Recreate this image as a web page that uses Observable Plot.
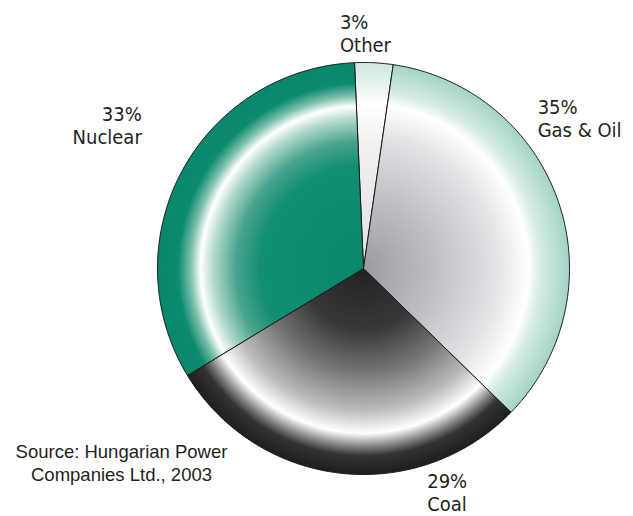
<!DOCTYPE html>
<html>
<head>
<meta charset="utf-8">
<script src="https://cdn.jsdelivr.net/npm/d3@7"></script>
<script src="https://cdn.jsdelivr.net/npm/@observablehq/plot@0.6"></script>
<style>
  html, body { margin: 0; padding: 0; background: #fff; }
  #chart { width: 633px; height: 516px; }
</style>
</head>
<body>
<div id="chart"></div>
<script>
// ---- data ----
const categories = ["Other", "Gas & Oil", "Coal", "Nuclear"];
const shares = [3, 35, 29, 33];
const sourceText = "Source: Hungarian Power\nCompanies Ltd., 2003";

// ---- styling ----
const startDeg = -2.5; // first slice begins just left of 12 o'clock, clockwise
const gradients = {
  "Other":     [[0, "#e2e2e6"], [0.6, "#f0f0f2"], [0.8, "#ffffff"], [0.9, "#e4f2ee"], [1, "#d0e8e1"]],
  "Gas & Oil": [[0, "#9a9aa1"], [0.35, "#bfbfc5"], [0.65, "#e4e4e7"], [0.8, "#ffffff"], [0.86, "#d6ece6"], [1, "#a4d3c6"]],
  "Coal":      [[0, "#222222"], [0.3, "#383838"], [0.5, "#747474"], [0.69, "#bcbcbc"], [0.8, "#ffffff"], [0.86, "#8a8a8a"], [0.91, "#333333"], [1, "#1e1e1e"]],
  "Nuclear":   [[0, "#0a886c"], [0.5, "#128e72"], [0.62, "#4aa48d"], [0.73, "#b4dacf"], [0.79, "#ffffff"], [0.84, "#7cc0ad"], [0.9, "#0e8b6e"], [1, "#07876b"]]
};
const labelStyle = {
  "Other":     {textAnchor: "start", dx: -34, dy: -11},
  "Gas & Oil": {textAnchor: "start", dx: -21, dy: -65},
  "Coal":      {textAnchor: "start", dx: 87,  dy: 38},
  "Nuclear":   {textAnchor: "end",   dx: -40, dy: -27}
};

// ---- geometry from the data ----
const start = startDeg * Math.PI / 180;
const arcs = d3.pie().sort(null).startAngle(start).endAngle(start + 2 * Math.PI)(shares);
const slices = arcs.map((a, i) => {
  const pts = [{x: 0, y: 0}];
  const n = Math.max(2, Math.ceil((a.endAngle - a.startAngle) / (Math.PI / 360)));
  for (let k = 0; k <= n; k++) {
    const t = a.startAngle + (a.endAngle - a.startAngle) * k / n;
    pts.push({x: Math.sin(t), y: Math.cos(t)});
  }
  pts.push({x: 0, y: 0});
  const mid = (a.startAngle + a.endAngle) / 2;
  return {
    name: categories[i],
    id: "grad" + i,
    points: pts,
    label: {x: Math.sin(mid), y: Math.cos(mid), text: `${shares[i]}%\n${categories[i]}`}
  };
});

const labelFont = "'DejaVu Sans Condensed', 'DejaVu Sans', sans-serif";

const plot = Plot.plot({
  width: 633,
  height: 516,
  marginLeft: 157,
  marginRight: 64,
  marginTop: 62,
  marginBottom: 42,
  x: {domain: [-1, 1], axis: null},
  y: {domain: [-1, 1], axis: null},
  style: {background: "#fff", overflow: "visible"},
  marks: [
    ...slices.map(s => Plot.line(s.points, {
      x: "x", y: "y", fill: `url(#${s.id})`, stroke: "#1a1a1a", strokeWidth: 1, strokeLinejoin: "miter", curve: "linear"
    })),
    ...slices.map(s => Plot.text([s.label], {
      x: "x", y: "y", text: "text",
      textAnchor: labelStyle[s.name].textAnchor,
      dx: labelStyle[s.name].dx, dy: labelStyle[s.name].dy,
      lineAnchor: "bottom", lineHeight: 1.15,
      fontSize: 20, fontFamily: labelFont, fill: "#231f20"
    })),
    Plot.text([sourceText], {
      frameAnchor: "bottom-left", text: d => d,
      textAnchor: "middle", lineAnchor: "bottom", lineHeight: 1.2,
      dx: -36, dy: 6,
      fontSize: 18.5, fontFamily: "'Liberation Sans', Arial, sans-serif", fill: "#231f20"
    })
  ]
});

// radial gradients centred on the pie, sized from the plot's own scales
const xs = plot.scale("x"), ys = plot.scale("y");
const cx = xs.apply(0), cy = ys.apply(0), r = xs.apply(1) - xs.apply(0);
const defs = d3.select(plot).insert("defs", ":first-child");
slices.forEach(s => {
  const g = defs.append("radialGradient")
    .attr("id", s.id)
    .attr("gradientUnits", "userSpaceOnUse")
    .attr("cx", cx).attr("cy", cy).attr("r", r)
    .attr("fx", cx).attr("fy", cy);
  gradients[s.name].forEach(([o, c]) => g.append("stop").attr("offset", o).attr("stop-color", c));
});

document.getElementById("chart").append(plot);
</script>
</body>
</html>
